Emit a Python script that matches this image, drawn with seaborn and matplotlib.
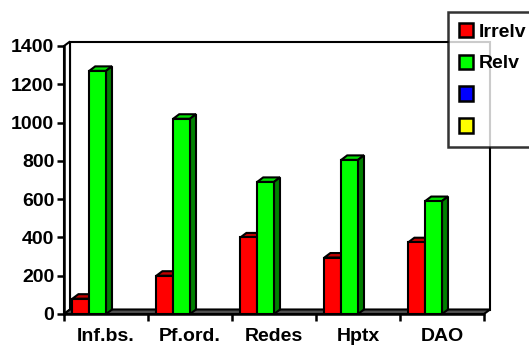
import matplotlib
matplotlib.use("Agg")
import matplotlib.pyplot as plt
import seaborn as sns
import pandas as pd
from matplotlib.patches import Polygon, Patch

categories = ["Inf.bs.", "Pf.ord.", "Redes", "Hptx", "DAO"]
series_names = ["Irrelv", "Relv", "S3", "S4"]
irrelv = [80, 200, 400, 295, 375]
relv = [1270, 1020, 690, 805, 590]
s3 = [0, 0, 0, 0, 0]
s4 = [0, 0, 0, 0, 0]
legend_labels = ["Irrelv", "Relv", "", ""]
colors = ["#ff0000", "#00ff00", "#0000ff", "#ffff00"]
top_colors = ["#c00000", "#00e000", "#0000c0", "#c0c000"]
side_colors = ["#800000", "#008000", "#000080", "#808000"]
yticks = [0, 200, 400, 600, 800, 1000, 1200, 1400]

rows = []
for name, vals in zip(series_names, [irrelv, relv, s3, s4]):
    for c, v in zip(categories, vals):
        rows.append({"cat": c, "series": name, "value": v})
df = pd.DataFrame(rows)

sns.set_theme(style="white")
plt.rcParams["font.family"] = ["Liberation Sans", "DejaVu Sans"]
plt.rcParams["font.weight"] = "bold"
plt.rcParams["text.color"] = "black"
plt.rcParams["xtick.color"] = "black"
plt.rcParams["ytick.color"] = "black"

fig = plt.figure(figsize=(5.29, 3.47), dpi=100)
ax = fig.add_axes([64/529, 1-314/347, 420/529, 268/347])

sns.barplot(data=df, x="cat", y="value", hue="series", hue_order=series_names,
            palette=colors, width=0.8, ax=ax, edgecolor="black", linewidth=1.5,
            legend=False, errorbar=None, saturation=1, zorder=5)

ax.set_xlim(-0.5, 4.5)
ax.set_ylim(0, 1400)
dx, dy = 6/84, 4.5*1400/268

# walls and floor
ax.add_patch(Polygon([(-0.5+dx, dy), (4.5+dx, dy), (4.5+dx, 1400+dy), (-0.5+dx, 1400+dy)],
                     closed=True, facecolor="white", edgecolor="black", lw=1.5, clip_on=False, zorder=1))
ax.add_patch(Polygon([(-0.5, 0), (-0.5, 1400), (-0.5+dx, 1400+dy), (-0.5+dx, dy)],
                     closed=True, facecolor="white", edgecolor="black", lw=1.5, clip_on=False, zorder=2))
ax.add_patch(Polygon([(-0.5, 0), (4.5, 0), (4.5+dx, dy), (-0.5+dx, dy)],
                     closed=True, facecolor="#505050", edgecolor="black", lw=1.5, clip_on=False, zorder=3))

# 3D tops and sides from the bars' own geometry
bars = [p for p in ax.patches if hasattr(p, "get_width") and p.get_width() < 0.5]
for i, p in enumerate(bars):
    si = i // len(categories)
    x0 = p.get_x(); x1 = x0 + p.get_width(); h = p.get_height()
    if h <= 0:
        p.set_visible(False)
        continue
    z = 5 + 0.01 * i
    ax.add_patch(Polygon([(x0, h), (x1, h), (x1+dx, h+dy), (x0+dx, h+dy)], closed=True,
                         facecolor=top_colors[si], edgecolor="black", lw=1.5, zorder=z, clip_on=False))
    ax.add_patch(Polygon([(x1, 0), (x1, h), (x1+dx, h+dy), (x1+dx, dy)], closed=True,
                         facecolor=side_colors[si], edgecolor="black", lw=1.5, zorder=z, clip_on=False))
    p.set_zorder(z + 0.005)

for s in ["top", "right", "bottom"]:
    ax.spines[s].set_visible(False)
ax.spines["left"].set_linewidth(1.8)
ax.spines["left"].set_color("black")
ax.spines["left"].set_zorder(10)

ax.set_yticks(yticks)
ax.set_yticklabels([str(t) for t in yticks], fontsize=14, fontweight="bold", color="black")
ax.set_xticks(range(len(categories)))
ax.set_xticklabels(categories, fontsize=14, fontweight="bold", color="black")
ax.set_xticks([i - 0.5 for i in range(len(categories)+1)], minor=True)
ax.tick_params(axis="y", direction="out", length=5, width=1.8, color="black", left=True, pad=2)
ax.tick_params(axis="x", which="major", length=0, pad=10)
ax.tick_params(axis="x", which="minor", direction="out", length=5, width=1.8, color="black", bottom=True)
ax.set_xlabel("")
ax.set_ylabel("")
ax.axhline(0, color="black", lw=1.8, zorder=4, clip_on=False)

handles = [Patch(facecolor=c, edgecolor="black", linewidth=1.8) for c in colors]
leg = fig.legend(handles, legend_labels, loc="upper left", bbox_to_anchor=(448/529, 1-12/347),
                 frameon=True, fancybox=False, handlelength=0.75, handleheight=0.75,
                 handletextpad=0.3, labelspacing=0.72, borderpad=0.55, borderaxespad=0,
                 prop={"weight": "bold", "size": 14})
for t in leg.get_texts():
    t.set_color("black")
leg.get_frame().set_edgecolor("black")
leg.get_frame().set_linewidth(1.8)
leg.set_zorder(20)

fig.savefig("out.png", dpi=100)
